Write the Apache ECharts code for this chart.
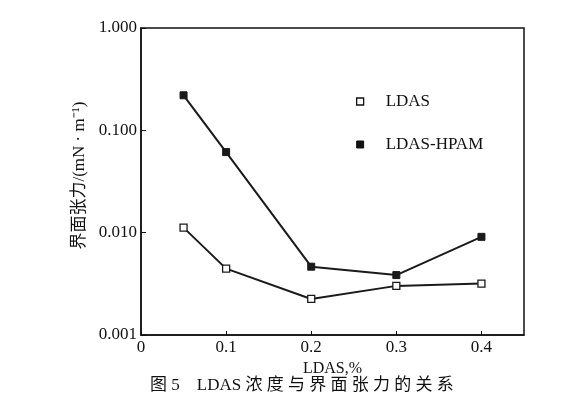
<!DOCTYPE html>
<html>
<head>
<meta charset="utf-8">
<script src="https://cdn.jsdelivr.net/npm/echarts@6/dist/echarts.min.js"></script>
<style>html,body{margin:0;padding:0;background:#fff}#c{width:570px;height:396px}</style>
</head>
<body>
<div id="c"></div>
<script>
var concentrations = [0.05, 0.1, 0.2, 0.3, 0.4];
var ldas = [0.0112, 0.00445, 0.00225, 0.00302, 0.00318];
var ldasHpam = [0.220, 0.0613, 0.00465, 0.00385, 0.0091];
var seriesNames = ['LDAS', 'LDAS-HPAM'];
var xAxisName = 'LDAS,%';
var yAxisName = '界面张力/(mN · m⁻¹)';
var caption = '图 5　LDAS 浓 度 与 界 面 张 力 的 关 系';

var FONT = '"Liberation Serif", "Noto Sans CJK SC", serif';
function pairs(xs, ys) { return xs.map(function (x, i) { return [x, ys[i]]; }); }

var chart = echarts.init(document.getElementById('c'), null, { renderer: 'canvas' });
chart.setOption({
  animation: false,
  backgroundColor: '#fff',
  textStyle: { fontFamily: FONT, color: '#111' },
  title: {
    text: caption,
    left: 145, top: 372,
    textStyle: { fontFamily: FONT, fontSize: 17, fontWeight: 'normal', color: '#111' }
  },
  grid: { left: 141, right: 46, top: 28, bottom: 61, show: true, borderColor: '#111', borderWidth: 1.5 },
  legend: {
    orient: 'vertical',
    left: 351, top: 88,
    itemWidth: 7, itemHeight: 7,
    itemGap: 26,
    textStyle: { fontFamily: FONT, fontSize: 17, color: '#111', padding: [0, 0, 0, 17] },
    data: [
      { name: seriesNames[0], icon: 'rect', itemStyle: { color: '#fff', borderColor: '#111', borderWidth: 1.3 } },
      { name: seriesNames[1], icon: 'rect', itemStyle: { color: '#111', borderColor: '#111', borderWidth: 1 } }
    ]
  },
  xAxis: {
    type: 'value', min: 0, max: 0.45, interval: 0.1,
    name: xAxisName, nameLocation: 'middle', nameGap: 13,
    nameTextStyle: { fontFamily: FONT, fontSize: 16, color: '#111' },
    axisLine: { lineStyle: { color: '#111', width: 1.5 } },
    axisTick: { inside: true, length: 4, lineStyle: { color: '#111', width: 1 } },
    axisLabel: { fontFamily: FONT, fontSize: 17, color: '#111', margin: 4, showMaxLabel: false,
      formatter: function (v) { return v === 0 ? '0' : String(+v.toFixed(2)); } },
    splitLine: { show: false }
  },
  yAxis: {
    type: 'log', min: 0.001, max: 1, logBase: 10,
    name: yAxisName, nameLocation: 'middle', nameGap: 52,
    nameTextStyle: { fontFamily: FONT, fontSize: 17, color: '#111', padding: [0, 0, 0, 12] },
    axisLine: { lineStyle: { color: '#111', width: 1.5 } },
    axisTick: { inside: true, length: 5, lineStyle: { color: '#111', width: 1 } },
    axisLabel: { fontFamily: FONT, fontSize: 17, color: '#111', margin: 4,
      formatter: function (v) { return v.toFixed(3); } },
    splitLine: { show: false }
  },
  series: [
    {
      name: seriesNames[0], type: 'line', data: pairs(concentrations, ldas),
      symbol: 'rect', symbolSize: 7,
      lineStyle: { color: '#1a1a1a', width: 2 },
      itemStyle: { color: '#fff', borderColor: '#1a1a1a', borderWidth: 1.3 },
      z: 3
    },
    {
      name: seriesNames[1], type: 'line', data: pairs(concentrations, ldasHpam),
      symbol: 'rect', symbolSize: 7,
      lineStyle: { color: '#1a1a1a', width: 2 },
      itemStyle: { color: '#1a1a1a', borderColor: '#1a1a1a', borderWidth: 1 },
      z: 3
    }
  ]
});
</script>
</body>
</html>
